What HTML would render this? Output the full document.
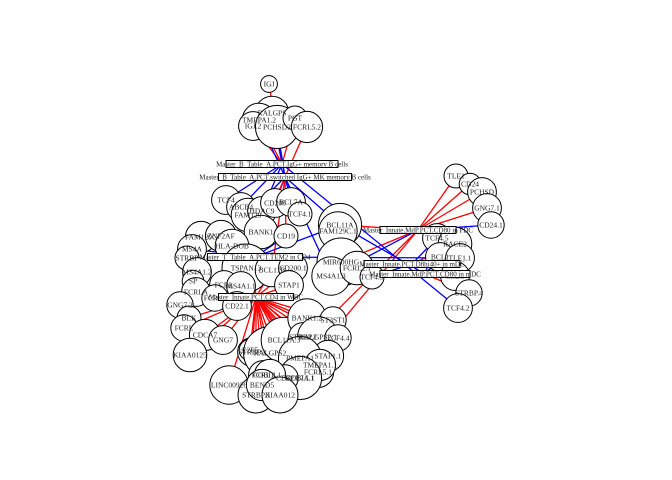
<!DOCTYPE html>
<html><head><meta charset="utf-8"><style>
html,body{margin:0;padding:0;background:#fff;}
svg{display:block;font-family:"Liberation Serif",serif;}
</style></head><body>
<svg id="chart" width="672" height="480" viewBox="0 0 672 480"></svg>
<script>
// Hub nodes (trait labels): label, x, y, box width
const hubLabels=["Master_B_Table_A.PCT.IgG+ memory B cells","Master_B_Table_A.PCT.switched IgG+ MK memory B cells","Master_T_Table_A.PCT.TEM2 in CD4","Master_Innate.PCT.CD4 in WBC","Master_Innate.MdP.PCT.CD80 in PDC","Master_Innate.PCT.D8hi40+ in mDC","Master_Innate.MdP.PCT.CD80 in mDC"];
const hubX=[282,285,255,256,418,412,425];
const hubY=[164,177,257,297,230,264,274];
const hubW=[112,133,95,75,76,96,90];
// Gene nodes
const geneLabels=["IGJ","RALGPS","TMEPA1.2","IGJ.2","PCHSD2","PGT","FCRL5.2",
"TCF4","ABCB4","FAM129","HDAC9","CD200","BCL7A","TCF4.1","BANK1","CD19",
"FAM129C","ZNF2AF","MS4A","HLA-DOB","STRBP","MS4A1.2","TSPAN13","BCL11B","CD200.1","STAP1","SP","FCRL","MS4A1.1","FCRLA","FCRL2","CD22.1",
"GNG7.2","BLK","FCRL","CDCA7","GNG7","STRBP.1","KIAA0125","E2F5","RALGPS2","BCL11A.3","BANK1.2","ST3ST1","STRBP.2","RALGPS2.1","TCF4.4","STAP1.1","PMEPA1","FCRL5.1","BCL7A.1","TMEPA1.1","COBLL1","FCRL1","CD72","COBLL1.1","LINC00926","STRBP.3","BEND5","KIAA012",
"BCL11A","FAM129C.1","MIR600HG","MS4A1.3","FCRL2.1","TCF4.3",
"TLE1","CD24","PCHSD","GNG7.1","CD24.1","TCF4.5","RACE2","BCL1","TLE1.1","CLEC","STRBP.4","TCF4.2"];
const geneX=[269,272,259,253,277,295,307,
226,241,248,262,275,291,300,261,286,
201,221,192,232,187,197,246,272,293,289,193,224,241,196,215,237,
180,189,184,205,223,252,190,250,270,284,307,333,303,318,338,328,300,318,300,320,300,263,285,270,229,256,262,280,
340,338,341,331,357,372,
456,470,482,487,491,437,455,440,460,455,469,458];
const geneY=[84,113,120,126,127,118,127,
200,207,215,211,203,202,214,232,236,
237,236,249,246,258,272,268,270,268,285,281,285,286,292,298,306,
305,318,328,335,340,352,355,350,353,340,318,320,337,337,338,356,358,372,378,365,378,375,378,375,385,395,385,395,
225,231,262,276,268,277,
176,184,192,208,225,238,244,257,258,276,293,308];
const geneR=[7,14,14,12,18,10,13,
12,12,14,12,12,12,10,14,10,
13,13,12,14,10,12,20,14,12,12,9,12,12,12,11,12,
11,10,11,13,12,12,14,9,22,19,16,11,12,17,11,13,18,13,14,13,18,12,11,13,16,15,13,15,
18,16,20,16,14,10,
10,9,12,12,11,12,14,12,12,12,11,12];
// edges: [hub index, gene index, sign (1 = positive/red, -1 = negative/blue)]
const edgeHub=[0,0,0,0,0,0,1,1,1,1,0,0,0,1,1,1,1,1,1,1,1,2,2,2,2,2,2,3,3,3,3,3,3,3,3,3,3,3,3,3,3,3,3,3,3,3,3,3,3,3,3,3,3,3,3,3,3,3,3,3,3,3,4,4,4,4,4,4,4,4,4,4,5,5,5,5,5,5,6,6,6,6,6,6,6,0,1,2,3,3];
const edgeGene=[0,1,2,3,4,5,6,4,1,2,7,8,10,11,12,13,9,60,23,15,14,60,14,15,18,19,22,23,24,25,26,27,28,29,30,31,32,33,34,35,36,37,38,39,40,41,42,43,44,45,46,47,48,49,50,51,52,53,54,55,56,57,58,59,62,63,60,66,67,68,69,70,71,72,73,62,64,65,71,72,73,60,64,75,76,77,63,74,8,9,17,62,60];
const edgeSign=[1,1,1,1,1,1,1,-1,-1,-1,-1,-1,-1,-1,-1,-1,-1,-1,1,1,1,-1,-1,-1,-1,-1,-1,1,1,1,1,1,1,1,1,1,1,1,1,1,1,1,1,1,1,1,1,1,1,1,1,1,1,1,1,1,1,1,1,1,1,1,1,1,1,-1,1,1,1,1,1,-1,-1,1,1,-1,-1,-1,-1,-1,-1,-1,-1,-1,1,-1,-1,-1,1,1];
const NS="http://www.w3.org/2000/svg";
const svg=document.getElementById("chart");
function mk(t,a,p){const e=document.createElementNS(NS,t);for(const k in a)e.setAttribute(k,a[k]);(p||svg).appendChild(e);return e;}
const gE=mk("g",{});


for(let i=0;i<edgeHub.length;i++){
  const h=edgeHub[i],g=edgeGene[i];
  const l=mk("line",{x1:hubX[h],y1:hubY[h],x2:geneX[g],y2:geneY[g],stroke:edgeSign[i]>0?"#ff0000":"#0000ff","stroke-width":1.3},gE);
  
  
}
const gN=mk("g",{});


for(let i=0;i<geneLabels.length;i++){
  const c=mk("circle",{cx:geneX[i],cy:geneY[i],r:geneR[i]*1.2,fill:"#fff",stroke:"#000","stroke-width":1},gN);
  
  
}
for(let i=0;i<geneLabels.length;i++){
  const t=mk("text",{x:geneX[i],y:geneY[i]+2.5,"text-anchor":"middle","font-size":7.5,fill:"#222"},gN);
  t.textContent=geneLabels[i];
  
  
}
const gH=mk("g",{});


for(let i=0;i<hubLabels.length;i++){
  const r=mk("rect",{x:hubX[i]-hubW[i]/2,y:hubY[i]-3.5,width:hubW[i],height:7,fill:"#fff",stroke:"#000","stroke-width":1},gH);
  
  
  const t=mk("text",{x:hubX[i],y:hubY[i]+2.5,"text-anchor":"middle","font-size":7,fill:"#222"},gH);
  t.textContent=hubLabels[i];
  
  
}
</script>
</body></html>
